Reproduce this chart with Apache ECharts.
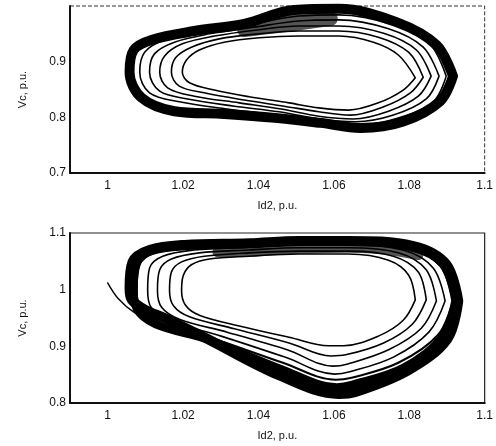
<!DOCTYPE html>
<html><head><meta charset="utf-8">
<script src="https://cdn.jsdelivr.net/npm/echarts@6/dist/echarts.min.js"></script>
<style>html,body{margin:0;padding:0;background:#fff}#c{width:496px;height:446px}</style>
</head><body><div id="c"></div>
<script>
// ---- tick labels ----
const xTickValues = [1, 1.02, 1.04, 1.06, 1.08, 1.1];
const xTickLabels = ['1', '1.02', '1.04', '1.06', '1.08', '1.1'];
const yTopTickValues = [0.7, 0.8, 0.9];
const yTopTickLabels = ['0.7', '0.8', '0.9'];
const yBotTickValues = [0.8, 0.9, 1.0, 1.1];
const yBotTickLabels = ['0.8', '0.9', '1', '1.1'];

// ---- top panel trajectories [Id2, Vc] (each loop starts at its right tip) ----
const topOuter = [[1.0916,0.874],[1.0882,0.829],[1.0782,0.792],[1.0671,0.781],[1.0565,0.790],[1.0444,0.799],[1.0309,0.806],[1.0177,0.811],[1.0090,0.835],[1.0058,0.881],[1.0069,0.921],[1.0116,0.939],[1.0230,0.955],[1.0362,0.968],[1.0494,0.993],[1.0613,0.995],[1.0766,0.971],[1.0872,0.930],[1.0916,0.874]];
const topDenseA = [[1.0362,0.957],[1.0476,0.966],[1.0592,0.977]];
const topDenseB = [[1.0428,0.971],[1.0586,0.987]];
const topInner5 = [[1.0898,0.874],[1.0864,0.828],[1.0771,0.799],[1.0666,0.786],[1.0565,0.793],[1.0449,0.804],[1.0317,0.815],[1.0190,0.828],[1.0111,0.844],[1.0085,0.881],[1.0098,0.917],[1.0151,0.939],[1.0256,0.953],[1.0375,0.966],[1.0507,0.982],[1.0613,0.984],[1.0758,0.966],[1.0856,0.930],[1.0898,0.874]];
const topInner4 = [[1.0879,0.874],[1.0845,0.833],[1.0758,0.804],[1.0658,0.792],[1.0560,0.797],[1.0454,0.810],[1.0336,0.820],[1.0212,0.833],[1.0138,0.847],[1.0111,0.881],[1.0124,0.914],[1.0177,0.935],[1.0270,0.950],[1.0388,0.962],[1.0507,0.973],[1.0613,0.975],[1.0745,0.959],[1.0837,0.926],[1.0879,0.874]];
const topInner3 = [[1.0858,0.874],[1.0824,0.838],[1.0745,0.811],[1.0652,0.797],[1.0560,0.802],[1.0460,0.815],[1.0349,0.826],[1.0230,0.838],[1.0159,0.853],[1.0138,0.881],[1.0151,0.910],[1.0198,0.932],[1.0283,0.946],[1.0396,0.957],[1.0507,0.964],[1.0613,0.964],[1.0732,0.951],[1.0819,0.921],[1.0858,0.874]];
const topInner2 = [[1.0837,0.872],[1.0803,0.844],[1.0732,0.819],[1.0644,0.804],[1.0560,0.810],[1.0468,0.820],[1.0362,0.831],[1.0256,0.844],[1.0190,0.856],[1.0169,0.881],[1.0180,0.907],[1.0222,0.926],[1.0296,0.941],[1.0402,0.950],[1.0507,0.955],[1.0613,0.955],[1.0718,0.944],[1.0798,0.917],[1.0837,0.872]];
const topInner1 = [[1.0816,0.871],[1.0784,0.849],[1.0718,0.826],[1.0639,0.813],[1.0560,0.817],[1.0481,0.826],[1.0375,0.837],[1.0283,0.849],[1.0217,0.862],[1.0198,0.881],[1.0209,0.903],[1.0243,0.921],[1.0309,0.935],[1.0402,0.943],[1.0507,0.946],[1.0613,0.946],[1.0705,0.935],[1.0771,0.912],[1.0816,0.871]];

// ---- bottom panel trajectories [Id2, Vc] ----
const botStart = [[1.0000,1.012],[1.0027,0.985],[1.0072,0.959],[1.0138,0.936],[1.0217,0.918],[1.0278,0.906],[1.0362,0.886]];
const botDense = [[1.0291,1.066],[1.0402,1.068],[1.0507,1.072],[1.0639,1.074],[1.0745,1.070],[1.0824,1.061]];
const botOuter = [[1.0930,0.980],[1.0901,0.913],[1.0798,0.858],[1.0655,0.819],[1.0613,0.816],[1.0454,0.849],[1.0256,0.916],[1.0151,0.950],[1.0101,0.964],[1.0064,0.982],[1.0058,1.003],[1.0066,1.049],[1.0111,1.070],[1.0204,1.079],[1.0375,1.082],[1.0507,1.086],[1.0639,1.086],[1.0811,1.077],[1.0898,1.045],[1.0930,0.980]];
const botInner6 = [[1.0922,0.980],[1.0887,0.916],[1.0784,0.862],[1.0647,0.832],[1.0608,0.828],[1.0460,0.860],[1.0270,0.911],[1.0127,0.939],[1.0077,0.966],[1.0069,1.001],[1.0077,1.047],[1.0116,1.068],[1.0212,1.077],[1.0375,1.081],[1.0507,1.084],[1.0639,1.084],[1.0803,1.075],[1.0890,1.044],[1.0922,0.980]];
const botInner5 = [[1.0916,0.980],[1.0876,0.920],[1.0771,0.871],[1.0644,0.844],[1.0605,0.841],[1.0465,0.871],[1.0283,0.913],[1.0143,0.941],[1.0087,0.968],[1.0077,0.999],[1.0085,1.044],[1.0124,1.065],[1.0217,1.074],[1.0375,1.079],[1.0507,1.082],[1.0639,1.082],[1.0798,1.074],[1.0882,1.042],[1.0916,0.980]];
const botInner4 = [[1.0895,0.980],[1.0852,0.925],[1.0758,0.881],[1.0642,0.855],[1.0602,0.851],[1.0470,0.881],[1.0301,0.918],[1.0169,0.945],[1.0116,0.968],[1.0106,0.999],[1.0111,1.038],[1.0146,1.059],[1.0230,1.070],[1.0375,1.075],[1.0507,1.079],[1.0639,1.079],[1.0784,1.070],[1.0864,1.038],[1.0895,0.980]];
const botInner3 = [[1.0872,0.980],[1.0832,0.932],[1.0745,0.894],[1.0637,0.869],[1.0597,0.865],[1.0476,0.894],[1.0317,0.925],[1.0190,0.948],[1.0143,0.969],[1.0132,0.999],[1.0138,1.035],[1.0169,1.054],[1.0243,1.065],[1.0375,1.070],[1.0507,1.074],[1.0639,1.074],[1.0771,1.065],[1.0845,1.035],[1.0872,0.980]];
const botInner2 = [[1.0845,0.982],[1.0808,0.939],[1.0732,0.906],[1.0631,0.885],[1.0592,0.883],[1.0481,0.906],[1.0336,0.931],[1.0217,0.952],[1.0175,0.971],[1.0164,0.999],[1.0169,1.031],[1.0196,1.049],[1.0256,1.059],[1.0375,1.065],[1.0507,1.068],[1.0639,1.068],[1.0758,1.059],[1.0824,1.031],[1.0845,0.982]];
const botInner1 = [[1.0816,0.982],[1.0784,0.946],[1.0718,0.918],[1.0626,0.901],[1.0586,0.901],[1.0481,0.916],[1.0349,0.936],[1.0243,0.955],[1.0206,0.973],[1.0196,0.999],[1.0201,1.026],[1.0222,1.044],[1.0270,1.054],[1.0375,1.059],[1.0507,1.063],[1.0639,1.063],[1.0745,1.052],[1.0798,1.026],[1.0816,0.982]];

const FONT = 'Liberation Sans';
function labelFor(values, labels) {
  return function (v) {
    for (let i = 0; i < values.length; i++) if (Math.abs(v - values[i]) < 1e-6) return labels[i];
    return '';
  };
}
function xAxis(gridIndex) {
  return {
    type: 'value', gridIndex, min: 0.99, max: 1.1, interval: 0.01,
    name: 'Id2, p.u.', nameLocation: 'middle', nameGap: 27,
    nameTextStyle: { fontFamily: FONT, fontSize: 11, color: '#111' },
    axisLine: { show: true, onZero: false, lineStyle: { color: '#111', width: 2 } },
    axisTick: { show: false }, splitLine: { show: false },
    axisLabel: { fontFamily: FONT, fontSize: 12, color: '#111', margin: 7,
      showMinLabel: true, showMaxLabel: true, formatter: labelFor(xTickValues, xTickLabels) }
  };
}
function yAxis(gridIndex, min, max, vals, labs) {
  return {
    type: 'value', gridIndex, min, max, interval: 0.1,
    name: 'Vc, p.u.', nameLocation: 'middle', nameGap: 42,
    nameTextStyle: { fontFamily: FONT, fontSize: 11, color: '#111' },
    axisLine: { show: true, onZero: false, lineStyle: { color: '#111', width: 2 } },
    axisTick: { show: false }, splitLine: { show: false },
    axisLabel: { fontFamily: FONT, fontSize: 12, color: '#111', margin: 4,
      showMinLabel: true, showMaxLabel: true, formatter: labelFor(vals, labs) }
  };
}
function loop(data, xi, width, color, smooth) {
  return { type: 'line', xAxisIndex: xi, yAxisIndex: xi, data, smooth: smooth == null ? 0.35 : smooth,
    showSymbol: false, symbol: 'none', silent: true,
    lineStyle: { color: color || '#000', width, cap: 'round', join: 'round' }, z: 2 };
}

const chart = echarts.init(document.getElementById('c'), null, { renderer: 'canvas' });
chart.setOption({
  animation: false,
  backgroundColor: '#fff',
  grid: [
    { left: 70, right: 10, top: 6, height: 167, show: true, borderColor: '#333', borderWidth: 1, borderType: 'dashed' },
    { left: 70, right: 9, top: 233, height: 170, show: true, borderColor: '#222', borderWidth: 1.2 }
  ],
  xAxis: [xAxis(0), xAxis(1)],
  yAxis: [yAxis(0, 0.7, 1.0, yTopTickValues, yTopTickLabels), yAxis(1, 0.8, 1.1, yBotTickValues, yBotTickLabels)],
  series: [
    loop(topDenseA, 0, 14, '#555', 0.2),
    loop(topDenseB, 0, 10, '#555', 0.2),
    loop(topOuter, 0, 10),
    loop(topInner5, 0, 1.6),
    loop(topInner4, 0, 1.6),
    loop(topInner3, 0, 1.6),
    loop(topInner2, 0, 1.6),
    loop(topInner1, 0, 1.6),
    loop(botDense, 1, 10, '#555', 0.3),
    loop(botOuter, 1, 10),
    loop(botInner6, 1, 8),
    loop(botInner5, 1, 2),
    loop(botInner4, 1, 1.6),
    loop(botInner3, 1, 1.6),
    loop(botInner2, 1, 1.6),
    loop(botInner1, 1, 1.6),
    loop(botStart, 1, 1.4)
  ]
});
</script></body></html>
